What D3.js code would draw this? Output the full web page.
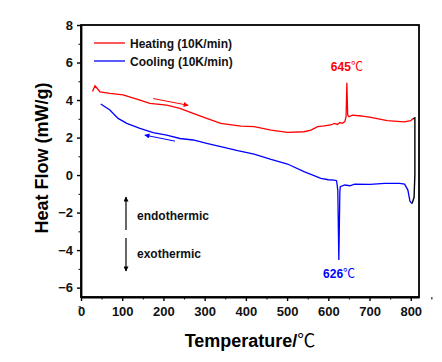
<!DOCTYPE html>
<html>
<head>
<meta charset="utf-8">
<script src="https://cdn.jsdelivr.net/npm/d3@7"></script>
<style>
  body { margin: 0; background: #fff; }
  text { font-family: "Liberation Sans", Arial, sans-serif; }
  .tick-label { font-size: 13px; font-weight: bold; }
  .axis-title { font-size: 18px; font-weight: bold; }
  .legend-label, .note-label { font-size: 12px; font-weight: bold; }
  .deg { font-family: "Noto Sans CJK SC", "DejaVu Sans", sans-serif; font-weight: normal; }
</style>
</head>
<body>
<svg id="dsc" width="442" height="362"></svg>
<script>

/*********************/
/*** INIT VARIABLE ***/
/*********************/

// heating run (red)
let heat_t = [28, 34, 46, 70, 102, 143, 167, 208, 240, 272, 305, 339, 388, 420, 461, 501, 541, 558, 574, 590, 606, 615, 622, 628, 634, 640, 643, 645, 647, 650, 659, 680, 703, 743, 784, 800, 805];
let heat_v = [4.45, 4.76, 4.44, 4.36, 4.27, 4.0, 3.82, 3.73, 3.56, 3.29, 3.02, 2.76, 2.61, 2.58, 2.4, 2.28, 2.31, 2.4, 2.58, 2.62, 2.67, 2.75, 2.7, 2.8, 2.76, 2.85, 3.1, 4.92, 3.2, 3.11, 3.2, 3.15, 3.08, 2.9, 2.84, 2.9, 3.0];

// cooling run (blue)
let cool_t = [48, 70, 90, 111, 143, 175, 208, 240, 272, 305, 339, 380, 420, 461, 501, 541, 582, 600, 614, 620, 623, 625.5, 628, 629, 640, 652, 664, 701, 737, 773, 785, 793, 798, 803];
let cool_v = [3.79, 3.47, 3.02, 2.76, 2.49, 2.26, 2.13, 1.95, 1.87, 1.69, 1.51, 1.3, 1.12, 0.84, 0.59, 0.18, -0.18, -0.25, -0.27, -0.3, -0.8, -4.53, -0.9, -0.62, -0.53, -0.57, -0.48, -0.5, -0.44, -0.44, -0.48, -0.8, -1.39, -1.52];

// isothermal segment joining both runs (black)
let hold_t = [805, 810, 810, 808, 803];
let hold_v = [3.0, 3.05, 0, -1.2, -1.52];

let x_ticks = [0, 100, 200, 300, 400, 500, 600, 700, 800],
    y_ticks = [-6, -4, -2, 0, 2, 4, 6, 8];

let series_names = ["Heating (10K/min)", "Cooling (10K/min)"],
    series_colors = ["#ff0000", "#0000ff"];

let peak_labels = [{t: 645, v: 4.92, text: "645", color: "#ff0000"},
                   {t: 626, v: -4.53, text: "626", color: "#0000ff"}];

let svg = d3.select('#dsc');

let margin = {top: 25, right: 23, bottom: 65, left: 81},
    width  = 442 - margin.left - margin.right,
    height = 362 - margin.top - margin.bottom;

let x = d3.scaleLinear().domain([0, 820]).range([margin.left, margin.left + width]),
    y = d3.scaleLinear().domain([-6.5, 8]).range([margin.top + height, margin.top]);

let line = d3.line().x((d) => x(d[0])).y((d) => y(d[1]));

/********************************/
/*** DECLARE HELPER FUNCTIONS ***/
/********************************/

function draw_axes() {
    let x_axis = svg.append("g")
        .attr("transform", "translate(0," + (margin.top + height) + ")")
        .call(d3.axisBottom(x).tickValues(x_ticks).tickSize(4).tickPadding(6).tickSizeOuter(0));
    let y_axis = svg.append("g")
        .attr("transform", "translate(" + margin.left + ",0)")
        .call(d3.axisLeft(y).tickValues(y_ticks).tickSize(4).tickPadding(4).tickSizeOuter(0));

    // minor ticks
    svg.append("g")
        .attr("transform", "translate(0," + (margin.top + height) + ")")
        .call(d3.axisBottom(x).tickValues(x_ticks.map((d) => d + 50)).tickSize(2.5).tickFormat("").tickSizeOuter(0))
        .select(".domain").remove();
    svg.append("g")
        .attr("transform", "translate(" + margin.left + ",0)")
        .call(d3.axisLeft(y).tickValues(y_ticks.map((d) => d - 1)).tickSize(2.5).tickFormat("").tickSizeOuter(0))
        .select(".domain").remove();

    [x_axis, y_axis].forEach((a) => {
        a.selectAll("text").classed("tick-label", true).attr("fill", "#111");
        a.selectAll("line").attr("stroke-width", 1.4);
    });
    svg.selectAll(".domain").attr("stroke-width", 1.8);

    // frame on top and right
    svg.append("rect")
        .attr("x", margin.left)
        .attr("y", margin.top)
        .attr("width", width)
        .attr("height", height)
        .attr("fill", "none")
        .attr("stroke", "#000")
        .attr("stroke-width", 1.8);

    let xt = svg.append("text")
        .classed("axis-title", true)
        .attr("x", margin.left + width / 2)
        .attr("y", 346.5)
        .attr("text-anchor", "middle");
    xt.append("tspan").text("Temperature/");
    xt.append("tspan").classed("deg", true).text("\u2103");

    svg.append("text")
        .classed("axis-title", true)
        .attr("transform", "translate(48," + 158 + ") rotate(-90)")
        .attr("text-anchor", "middle")
        .text("Heat Flow (mW/g)");
}

function draw_curves() {
    svg.append("path")
        .datum(d3.zip(hold_t, hold_v))
        .attr("d", line)
        .attr("fill", "none")
        .attr("stroke", "#000")
        .attr("stroke-width", 1.4);
    svg.append("path")
        .datum(d3.zip(heat_t, heat_v))
        .attr("d", line)
        .attr("fill", "none")
        .attr("stroke", series_colors[0])
        .attr("stroke-width", 1.3);
    svg.append("path")
        .datum(d3.zip(cool_t, cool_v))
        .attr("d", line)
        .attr("fill", "none")
        .attr("stroke", series_colors[1])
        .attr("stroke-width", 1.3);
}

function draw_legend() {
    let items = svg.selectAll("g.legend")
        .data(series_names).enter()
        .append("g")
        .classed("legend", true)
        .attr("transform", (d, i) => "translate(94," + (43 + i * 18) + ")");
    items.append("line")
        .attr("x1", 0).attr("x2", 31)
        .attr("stroke", (d, i) => series_colors[i])
        .attr("stroke-width", 1.3);
    items.append("text")
        .classed("legend-label", true)
        .attr("x", 36)
        .attr("y", 4.5)
        .attr("fill", "#111")
        .text((d) => d);
}

function draw_notes() {
    let defs = svg.append("defs");
    [["head-k", "#000"], ["head-r", "#ff0000"], ["head-b", "#0000ff"]].forEach((m) => {
        defs.append("marker")
            .attr("id", m[0])
            .attr("viewBox", "0 0 10 10")
            .attr("refX", 9).attr("refY", 5)
            .attr("markerWidth", 7).attr("markerHeight", 5)
            .attr("orient", "auto")
            .attr("markerUnits", "userSpaceOnUse")
            .append("path")
            .attr("d", "M0,0 L10,5 L0,10 Z")
            .attr("fill", m[1]);
    });

    // direction arrows beside the curves
    svg.append("line")
        .attr("x1", x(175)).attr("y1", y(4.08)).attr("x2", x(260)).attr("y2", y(3.72))
        .attr("stroke", "#ff0000").attr("stroke-width", 1)
        .attr("marker-end", "url(#head-r)");
    svg.append("line")
        .attr("x1", x(228)).attr("y1", y(1.81)).attr("x2", x(155)).attr("y2", y(2.13))
        .attr("stroke", "#0000ff").attr("stroke-width", 1)
        .attr("marker-end", "url(#head-b)");

    // endothermic / exothermic
    svg.append("line")
        .attr("x1", 126).attr("y1", 230).attr("x2", 126).attr("y2", 197)
        .attr("stroke", "#000").attr("stroke-width", 1.2)
        .attr("marker-end", "url(#head-k)");
    svg.append("line")
        .attr("x1", 126).attr("y1", 238).attr("x2", 126).attr("y2", 271)
        .attr("stroke", "#000").attr("stroke-width", 1.2)
        .attr("marker-end", "url(#head-k)");
    svg.append("text").classed("note-label", true)
        .attr("x", 137).attr("y", 220).attr("fill", "#111").text("endothermic");
    svg.append("text").classed("note-label", true)
        .attr("x", 137).attr("y", 258).attr("fill", "#111").text("exothermic");

    // peak temperatures
    let pl = svg.selectAll("text.peak")
        .data(peak_labels).enter()
        .append("text")
        .classed("note-label", true)
        .classed("peak", true)
        .attr("x", (d) => x(d.t) - 16)
        .attr("y", (d) => d.v > 0 ? y(d.v) - 12 : y(d.v) + 18)
        .attr("fill", (d) => d.color);
    pl.append("tspan").text((d) => d.text);
    pl.append("tspan").classed("deg", true).text("\u2103");
}

/*********************************/
/*** DRAW ***/
/*********************************/

draw_curves();
draw_axes();
draw_legend();
draw_notes();

</script>
</body>
</html>
